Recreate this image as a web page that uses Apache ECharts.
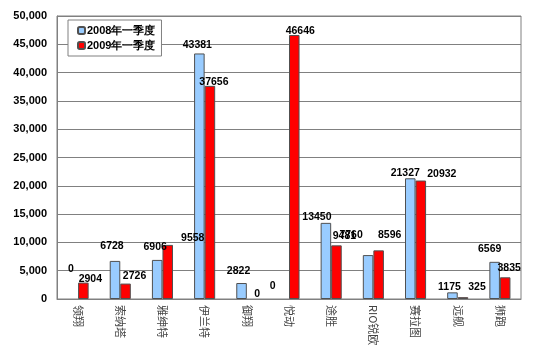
<!DOCTYPE html>
<html>
<head>
<meta charset="utf-8">
<script src="https://cdn.jsdelivr.net/npm/echarts@6/dist/echarts.min.js"></script>
<style>
  html, body { margin: 0; padding: 0; background: #fff; }
  #main { width: 550px; height: 352px; }
</style>
</head>
<body>
<div id="main"></div>
<script>
var categories = ['领翔', '索纳塔', '雅绅特', '伊兰特', '御翔', '悦动', '途胜', 'RIO锐欧', '赛拉图', '远舰', '狮跑'];
var q1of2008 = [0, 6728, 6906, 43381, 2822, 0, 13450, 7760, 21327, 1175, 6569];
var q1of2009 = [2904, 2726, 9558, 37656, 0, 46646, 9481, 8596, 20932, 325, 3835];
var seriesNames = ['2008年一季度', '2009年一季度'];
var yTicks = [0, 50000, 5000];

// where the data labels sit relative to the bar top (hand placed in the original)
var shift2008 = [[-2, -24], [-3, -9], [-2, -7], [-2, -3], [-3, -6], [-11, -7], [-9, 0], [-17, -14], [-5, 0], [-3, 0], [-5, -7]];
var shift2009 = [[7, 2], [9, -2], [25, -1], [4, 2], [5, 1], [6, 2], [8, -4], [11, -10], [21, -1], [14, -5], [4, -4]];

function withLabels(values, shifts) {
    return values.map(function (v, i) {
        var item = { value: v, label: { offset: shifts[i] } };
        if (v === 0) item.itemStyle = { borderWidth: 0 };
        return item;
    });
}

var labelStyle = {
    show: true,
    position: 'top',
    distance: 0,
    color: '#000',
    fontFamily: 'Liberation Sans',
    fontWeight: 'bold',
    fontSize: 10.5
};

var chart = echarts.init(document.getElementById('main'));
chart.setOption({
    animation: false,
    grid: {
        left: 57, right: 29, top: 16, bottom: 53,
        show: true, borderColor: '#808080', borderWidth: 1
    },
    legend: {
        orient: 'vertical',
        left: 68, top: 20,
        padding: [5, 6, 5, 9],
        itemWidth: 7, itemHeight: 7, itemGap: 4,
        backgroundColor: '#fff',
        borderColor: '#808080', borderWidth: 1,
        textStyle: { fontFamily: 'Liberation Sans', fontWeight: 'bold', fontSize: 11, color: '#000', padding: [0, 0, 0, -3] },
        data: seriesNames
    },
    xAxis: {
        type: 'category',
        data: categories,
        axisLine: { lineStyle: { color: '#808080' } },
        axisTick: { inside: true, length: 3, lineStyle: { color: '#808080' } },
        axisLabel: {
            rotate: -90, margin: 6, interval: 0,
            fontFamily: 'Noto Sans CJK SC', fontSize: 11, color: '#444'
        }
    },
    yAxis: {
        type: 'value',
        min: yTicks[0], max: yTicks[1], interval: yTicks[2],
        axisLine: { show: true, lineStyle: { color: '#808080' } },
        axisTick: { show: false },
        splitLine: { lineStyle: { color: '#808080' } },
        axisLabel: {
            margin: 10,
            fontFamily: 'Liberation Sans', fontWeight: 'bold', fontSize: 11, color: '#000',
            formatter: function (v) { return v.toLocaleString('en-US'); }
        }
    },
    series: [
        {
            name: seriesNames[0], type: 'bar',
            barGap: '0%', barCategoryGap: '50%',
            itemStyle: { color: '#99CCFF', borderColor: '#505050', borderWidth: 1 },
            label: labelStyle,
            data: withLabels(q1of2008, shift2008)
        },
        {
            name: seriesNames[1], type: 'bar',
            itemStyle: { color: '#FF0000', borderColor: '#505050', borderWidth: 1 },
            label: labelStyle,
            data: withLabels(q1of2009, shift2009)
        }
    ]
});
</script>
</body>
</html>
